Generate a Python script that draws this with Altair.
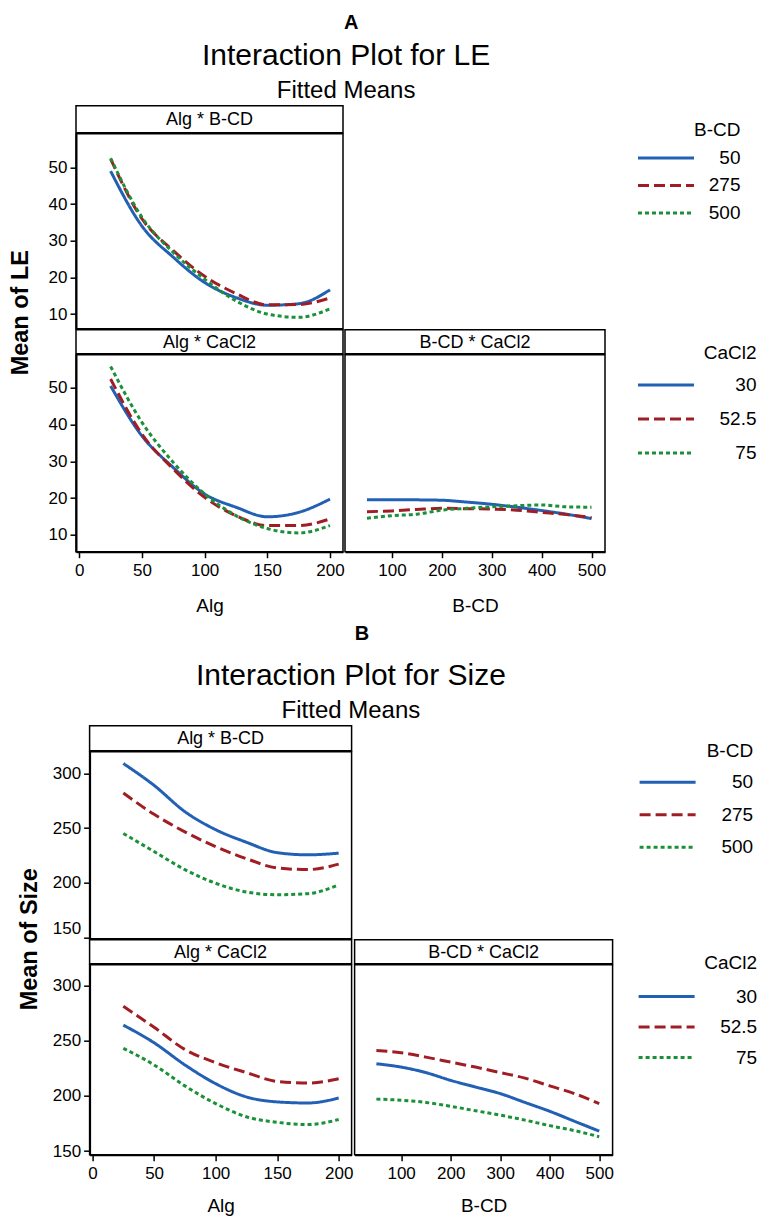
import altair as alt
import pandas as pd

SANS = "Liberation Sans, Arial, sans-serif"

# ---------------- data ----------------
ALG = [25, 50, 75, 100, 125, 150, 175, 200]
BCD = [50, 100, 150, 200, 250, 300, 350, 400, 450, 500]

BCD_LEVELS = ["50", "275", "500"]
CACL2_LEVELS = ["30", "52.5", "75"]

# A: Mean of LE
LE_ALG_BCD_50 = [49.0, 34.0, 25.5, 18.6, 14.5, 12.4, 12.8, 16.6]
LE_ALG_BCD_275 = [52.3, 36.0, 27.3, 20.3, 15.6, 12.5, 12.6, 14.4]
LE_ALG_BCD_500 = [52.5, 36.4, 26.8, 19.5, 13.6, 10.0, 9.1, 11.4]

LE_ALG_CA_30 = [50.5, 36.9, 28.3, 21.1, 17.5, 14.9, 16.1, 19.7]
LE_ALG_CA_525 = [52.4, 37.4, 27.9, 20.2, 15.2, 12.5, 12.5, 14.3]
LE_ALG_CA_75 = [55.8, 40.6, 29.7, 21.1, 15.2, 11.7, 10.5, 12.5]

LE_BCD_CA_30 = [19.5, 19.5, 19.5, 19.4, 18.9, 18.3, 17.5, 16.6, 15.6, 14.4]
LE_BCD_CA_525 = [16.3, 16.5, 16.9, 17.2, 17.1, 17.0, 16.7, 16.1, 15.5, 14.7]
LE_BCD_CA_75 = [14.5, 15.2, 15.6, 16.7, 17.2, 17.6, 17.9, 18.1, 17.6, 17.5]

# B: Mean of Size
SZ_ALG_BCD_50 = [309, 289, 265, 248.5, 237, 227.5, 225.5, 227]
SZ_ALG_BCD_275 = [282, 262.5, 246.5, 233, 222, 213.5, 212, 217]
SZ_ALG_BCD_500 = [245, 228.5, 212, 199.5, 191.5, 189, 190, 198]

SZ_ALG_CA_30 = [264, 248, 228, 211, 199, 194.5, 193.5, 198]
SZ_ALG_CA_525 = [281, 262, 242, 230, 221, 213, 211.5, 215.5]
SZ_ALG_CA_75 = [243, 228, 209, 193, 181, 176, 174, 178.5]

SZ_BCD_CA_30 = [229, 226, 221, 214, 208, 202, 194, 186, 177, 168]
SZ_BCD_CA_525 = [241, 239, 235, 230.5, 226, 221, 216, 209, 202, 193]
SZ_BCD_CA_75 = [197, 196, 194, 190.5, 186.5, 182.5, 178, 173, 168.5, 163]

COLORS = ["#2260b4", "#a01e23", "#1a9138"]
DASHES = [[1, 0], [11, 5], [4, 3]]


def long_df(xs, levels, series):
    rows = []
    for lvl, ys in zip(levels, series):
        for x, y in zip(xs, ys):
            rows.append({"x": x, "y": y, "lvl": lvl})
    return pd.DataFrame(rows)


def R(c):
    return c.resolve_scale(x="independent", y="independent",
                           color="independent", strokeDash="independent")


def xaxis(title, values, title_pad):
    return alt.Axis(title=title, values=values, grid=False, tickSize=6, tickWidth=1.5,
                    tickColor="black", domainColor="black", domainWidth=2,
                    labelFont=SANS, labelFontSize=17, labelColor="black",
                    labelPadding=5, labelFlush=False, labelOverlap=False,
                    titleFont=SANS, titleFontSize=19, titleFontWeight="normal",
                    titleColor="black", titlePadding=title_pad)


def yaxis(values, flush=False):
    return alt.Axis(title=None, values=values, grid=False, tickSize=6, tickWidth=1.5,
                    tickColor="black", domainColor="black", domainWidth=2,
                    labelFont=SANS, labelFontSize=17, labelColor="black",
                    labelPadding=3, labelFlush=flush, labelOverlap=False)


def panel(df, xdom, ydom, w, h, levels, xax, yax):
    return alt.Chart(df).mark_line(strokeWidth=3, interpolate="monotone", clip=True).encode(
        x=alt.X("x:Q", scale=alt.Scale(domain=xdom, nice=False, zero=False), axis=xax),
        y=alt.Y("y:Q", scale=alt.Scale(domain=ydom, nice=False, zero=False), axis=yax),
        color=alt.Color("lvl:N", scale=alt.Scale(domain=levels, range=COLORS), legend=None),
        strokeDash=alt.StrokeDash("lvl:N", scale=alt.Scale(domain=levels, range=DASHES), legend=None),
    ).properties(width=w, height=h)


def header(label, w, h):
    return alt.Chart(pd.DataFrame({"t": [label]})).mark_text(
        font=SANS, fontSize=18, color="black"
    ).encode(text="t:N", x=alt.value(w / 2), y=alt.value(h / 2 + 1)).properties(width=w, height=h)


def legend_unit(title, levels, ly, row_pad, title_pad, label_offset):
    lg = alt.Legend(title=title, orient="none", legendX=0, legendY=ly, direction="vertical",
                    symbolType="stroke", symbolSize=3136, symbolStrokeWidth=3,
                    clipHeight=22,
                    labelFont=SANS, labelFontSize=19, labelColor="black",
                    labelAlign="right", labelOffset=label_offset,
                    titleFont=SANS, titleFontSize=19, titleFontWeight="normal",
                    titleColor="black", titleAnchor="end", titleAlign="right",
                    titlePadding=title_pad, rowPadding=row_pad, padding=0)
    df = pd.DataFrame({"lvl": pd.Series([], dtype=str)})
    return alt.Chart(df).mark_line(strokeWidth=3).encode(
        color=alt.Color("lvl:N", scale=alt.Scale(domain=levels, range=COLORS), legend=lg),
        strokeDash=alt.StrokeDash("lvl:N", scale=alt.Scale(domain=levels, range=DASHES), legend=lg),
    ).properties(width=1, height=1, view=alt.ViewBackground(stroke="transparent"))


def ytitle_unit(text, width, cx, cy):
    return alt.Chart(pd.DataFrame({"v": [0]})).mark_point(opacity=0).encode(
        y=alt.Y("v:Q", axis=alt.Axis(
            title=text, labels=False, ticks=False, domain=False, grid=False,
            titleFont=SANS, titleFontSize=23.5, titleFontWeight="bold", titleColor="black",
            titleX=cx, titleY=cy, titleBaseline="middle", titleAlign="center", titleAngle=270))
    ).properties(width=width, height=300, view=alt.ViewBackground(stroke="transparent"))


def section(letter, main_title, ytitle, data_tl, data_bl, data_br,
            alg_dom, bcd_dom, ydom_top, ydom_bot, yvals, tl_flush,
            wl, wr, h_hdr_top, h_top, h_hdr_bot, h_bot, sp1, sp2, row_sp,
            leg1, leg2, ycx, ycy, ygap, xtitle_pad, title_dx, title_offset,
            letter_dx, letter_offset):
    hp = -1.5  # header and panel share their border line
    hdr_tl = header("Alg * B-CD", wl, h_hdr_top)
    p_tl = panel(data_tl, alg_dom, ydom_top, wl, h_top, BCD_LEVELS, None, yaxis(yvals, tl_flush))
    col_tl = R(alt.vconcat(hdr_tl, p_tl, spacing=hp))
    lg1 = legend_unit("B-CD", BCD_LEVELS, *leg1)
    row_top = R(alt.hconcat(col_tl, lg1, spacing=sp1))

    hdr_bl = header("Alg * CaCl2", wl, h_hdr_bot)
    p_bl = panel(data_bl, alg_dom, ydom_bot, wl, h_bot, CACL2_LEVELS,
                 xaxis("Alg", [0, 50, 100, 150, 200], xtitle_pad), yaxis(yvals))
    col_bl = R(alt.vconcat(hdr_bl, p_bl, spacing=hp))
    hdr_br = header("B-CD * CaCl2", wr, h_hdr_bot)
    p_br = panel(data_br, bcd_dom, ydom_bot, wr, h_bot, CACL2_LEVELS,
                 xaxis("B-CD", [100, 200, 300, 400, 500], xtitle_pad), None)
    col_br = R(alt.vconcat(hdr_br, p_br, spacing=hp))
    lg2 = legend_unit("CaCl2", CACL2_LEVELS, *leg2)
    row_bot = R(alt.hconcat(R(alt.hconcat(col_bl, col_br, spacing=hp)), lg2, spacing=sp2))

    grid = R(alt.vconcat(row_top, row_bot, spacing=row_sp))
    body = R(alt.hconcat(ytitle_unit(ytitle, 40, ycx, ycy), grid, spacing=ygap, title=alt.TitleParams(
        main_title, subtitle="Fitted Means", anchor="middle", frame="bounds",
        font=SANS, fontSize=30, fontWeight="normal", color="black",
        subtitleFont=SANS, subtitleFontSize=24, subtitleColor="black",
        subtitlePadding=7.5, offset=title_offset, dx=title_dx)))
    top = R(alt.vconcat(body, spacing=0, title=alt.TitleParams(
        letter, anchor="middle", frame="bounds", font=SANS, fontSize=20, fontWeight="bold",
        color="black", offset=letter_offset, dx=letter_dx)))
    return top


secA = section(
    "A", "Interaction Plot for LE", "Mean of LE",
    long_df(ALG, BCD_LEVELS, [LE_ALG_BCD_50, LE_ALG_BCD_275, LE_ALG_BCD_500]),
    long_df(ALG, CACL2_LEVELS, [LE_ALG_CA_30, LE_ALG_CA_525, LE_ALG_CA_75]),
    long_df(BCD, CACL2_LEVELS, [LE_BCD_CA_30, LE_BCD_CA_525, LE_BCD_CA_75]),
    [-2.6, 210.4], [6.0, 527.0], [6.0, 59.2], [5.4, 59.0], [10, 20, 30, 40, 50], False,
    267, 260, 27, 195, 24, 197, 291.5, 28.5, -3,
    (15.3, 5.5, 7, 45), (14.2, 12, 11, 61),
    19.5, 206.5, 5, 18, -32.5, 2, -27.5, 8.6,
)

secB = section(
    "B", "Interaction Plot for Size", "Mean of Size",
    long_df(ALG, BCD_LEVELS, [SZ_ALG_BCD_50, SZ_ALG_BCD_275, SZ_ALG_BCD_500]),
    long_df(ALG, CACL2_LEVELS, [SZ_ALG_CA_30, SZ_ALG_CA_525, SZ_ALG_CA_75]),
    long_df(BCD, CACL2_LEVELS, [SZ_BCD_CA_30, SZ_BCD_CA_525, SZ_BCD_CA_75]),
    [-2.4, 210.5], [6.0, 527.0], [148.8, 319.8], [146.7, 318.7], [150, 200, 250, 300], 5,
    262, 258, 25, 187, 24, 190, 284.5, 21.5, -1,
    (16.5, 10.5, 10, 56), (14.4, 8.5, 12.5, 61),
    28, 213, 8.6, 15, -28, 2, -17, 17,
)

chart = R(alt.vconcat(secA, secB, spacing=7)).properties(
    padding={"left": 0, "top": 12.7, "right": 0, "bottom": 0},
    background="white",
).configure_view(stroke="black", strokeWidth=1.5)

chart.save("out.html", embed_options={"renderer": "svg", "actions": False})
